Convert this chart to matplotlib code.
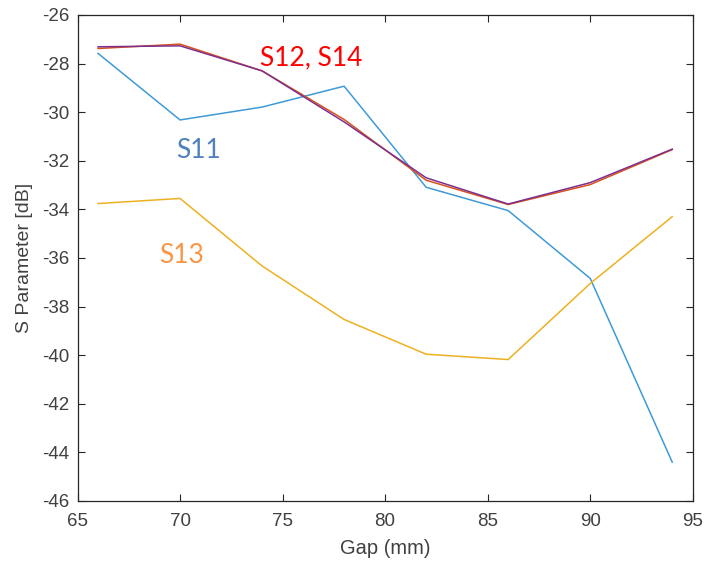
import numpy as np
import matplotlib.pyplot as plt

plt.rcParams['axes.unicode_minus'] = False
plt.rcParams['font.family'] = 'Liberation Sans'

gap = [66, 70, 74, 78, 82, 86, 90, 94]
s11 = [-27.58, -30.32, -29.79, -28.93, -33.09, -34.05, -36.84, -44.4]
s12 = [-27.38, -27.2, -28.3, -30.3, -32.8, -33.8, -32.98, -31.54]
s13 = [-33.76, -33.55, -36.33, -38.53, -39.96, -40.18, -37.05, -34.3]
s14 = [-27.31, -27.27, -28.3, -30.4, -32.7, -33.78, -32.9, -31.52]

fig = plt.figure(figsize=(7.04, 5.65), dpi=100)
ax = fig.add_axes([0.1101, 0.1133, 0.8739, 0.8602])

ax.plot(gap, s11, color='#3f9ad8', lw=1.1)
ax.plot(gap, s12, color='#D95319', lw=1.1)
ax.plot(gap, s13, color='#EDB120', lw=1.1)
ax.plot(gap, s14, color='#7E2F8E', lw=1.1)

ax.set_xlim(65, 95)
ax.set_ylim(-46, -26)
ax.set_xticks(np.arange(65, 96, 5))
ax.set_yticks(np.arange(-46, -25, 2))

grey = '#262626'
ax.tick_params(direction='in', length=5, width=0.8, colors=grey,
               labelsize=13.5, top=True, right=True, labelcolor='#404040')
ax.tick_params(axis='x', pad=9)
ax.tick_params(axis='y', pad=6)
for s in ax.spines.values():
    s.set_color(grey)
    s.set_linewidth(0.9)

ax.set_xlabel('Gap (mm)', fontsize=14.5, color='#404040')
ax.set_ylabel('S Parameter [dB]', fontsize=14, color='#404040')
ax.xaxis.set_label_coords(0.5, -0.078)
ax.yaxis.set_label_coords(-0.073, 0.5)

ax.text(76.4, -27.78, 'S12, S14', color='#FF0000', fontsize=19,
        family='Lato', ha='center', va='center')
ax.text(70.9, -31.58, 'S11', color='#4F81BD', fontsize=19,
        family='Lato', ha='center', va='center')
ax.text(70.1, -35.9, 'S13', color='#F79646', fontsize=19,
        family='Lato', ha='center', va='center')

fig.savefig('out.png', dpi=100)
